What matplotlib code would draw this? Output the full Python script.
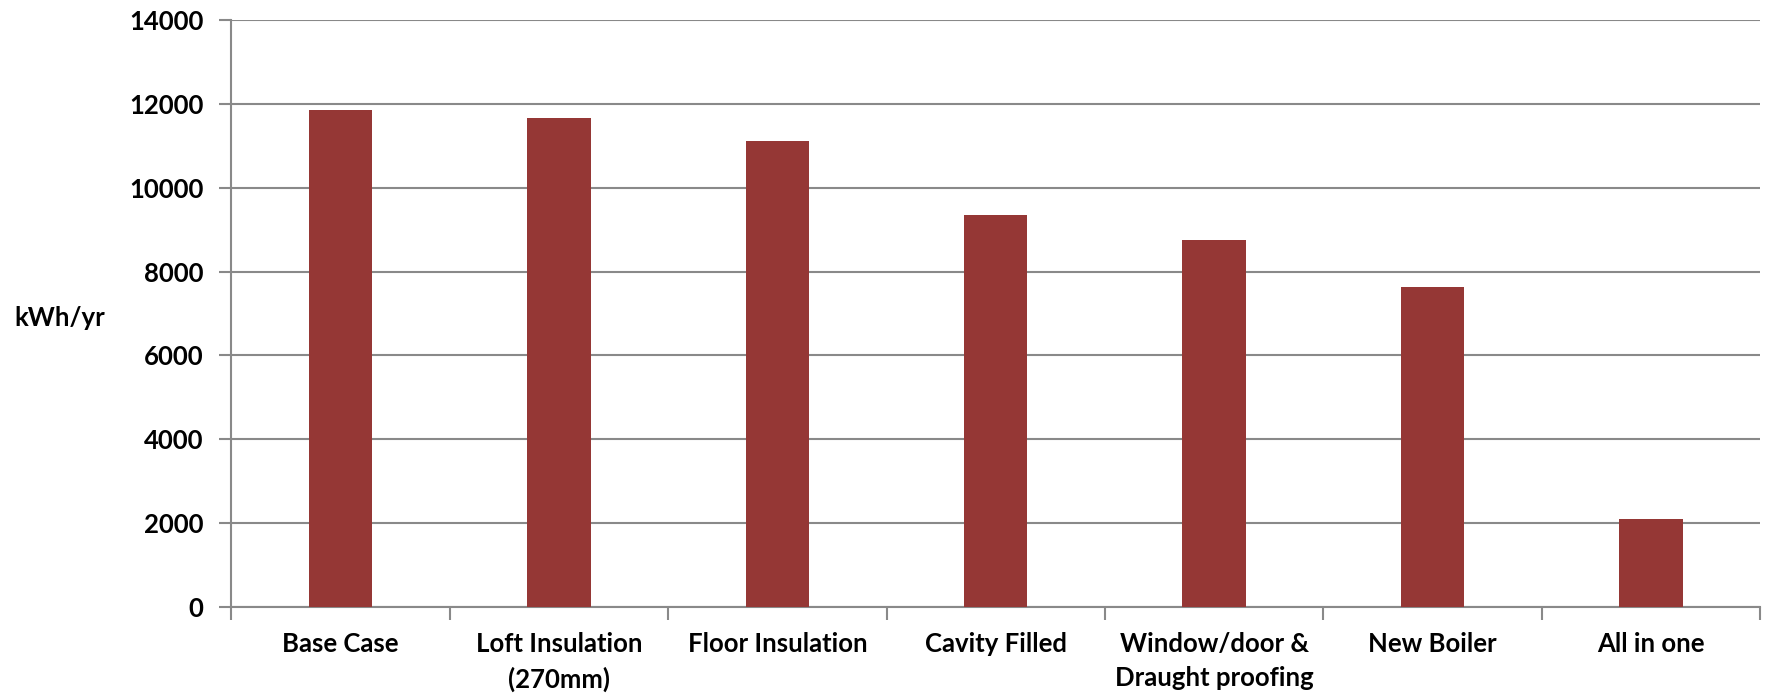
import matplotlib
matplotlib.use("Agg")
import matplotlib.pyplot as plt
import numpy as np

categories = ["Base Case", "Loft Insulation\n(270mm)", "Floor Insulation", "Cavity Filled",
              "Window/door &\nDraught proofing", "New Boiler", "All in one"]
values = [11850, 11655, 11110, 9350, 8750, 7640, 2095]
yticks = [0, 2000, 4000, 6000, 8000, 10000, 12000, 14000]
ylabel = "kWh/yr"

plt.rcParams['font.family'] = ['Lato', 'DejaVu Sans']
plt.rcParams['font.weight'] = 'bold'

fig = plt.figure(figsize=(17.71, 6.95), dpi=100)
ax = fig.add_axes([0.1307, 0.1266, 0.9938 - 0.1307, 0.9712 - 0.1266])

grid_c = "#898989"
x = np.arange(len(categories))
ax.bar(x, values, width=0.29, color="#953735", zorder=3)

ax.set_xlim(-0.5, len(categories) - 0.5)
ax.set_ylim(0, 14000)
ax.set_yticks(yticks)
ax.set_yticklabels([str(v) for v in yticks], fontsize=18.5, fontweight='bold')
ax.yaxis.grid(True, color=grid_c, linewidth=1.5, zorder=0)
ax.set_xticks(np.arange(-0.5, len(categories), 1.0))
ax.set_xticklabels([])
ax.set_xticks(x, minor=True)
ax.set_xticklabels(categories, minor=True, fontsize=18.5, fontweight='bold', linespacing=1.5, va='top')
ax.tick_params(axis='x', which='minor', length=0, pad=18)
ax.tick_params(axis='x', which='major', length=9, width=1.5, color=grid_c)
ax.tick_params(axis='y', length=9, width=1.5, color=grid_c, pad=11)

for s in ['top', 'right']:
    ax.spines[s].set_visible(False)
for s in ['left', 'bottom']:
    ax.spines[s].set_color(grid_c)
    ax.spines[s].set_linewidth(1.5)

fig.text(14 / 1771, 1 - 318 / 695, ylabel, fontsize=18.5, fontweight='bold', ha='left', va='center')

fig.savefig("out.png", dpi=100)
